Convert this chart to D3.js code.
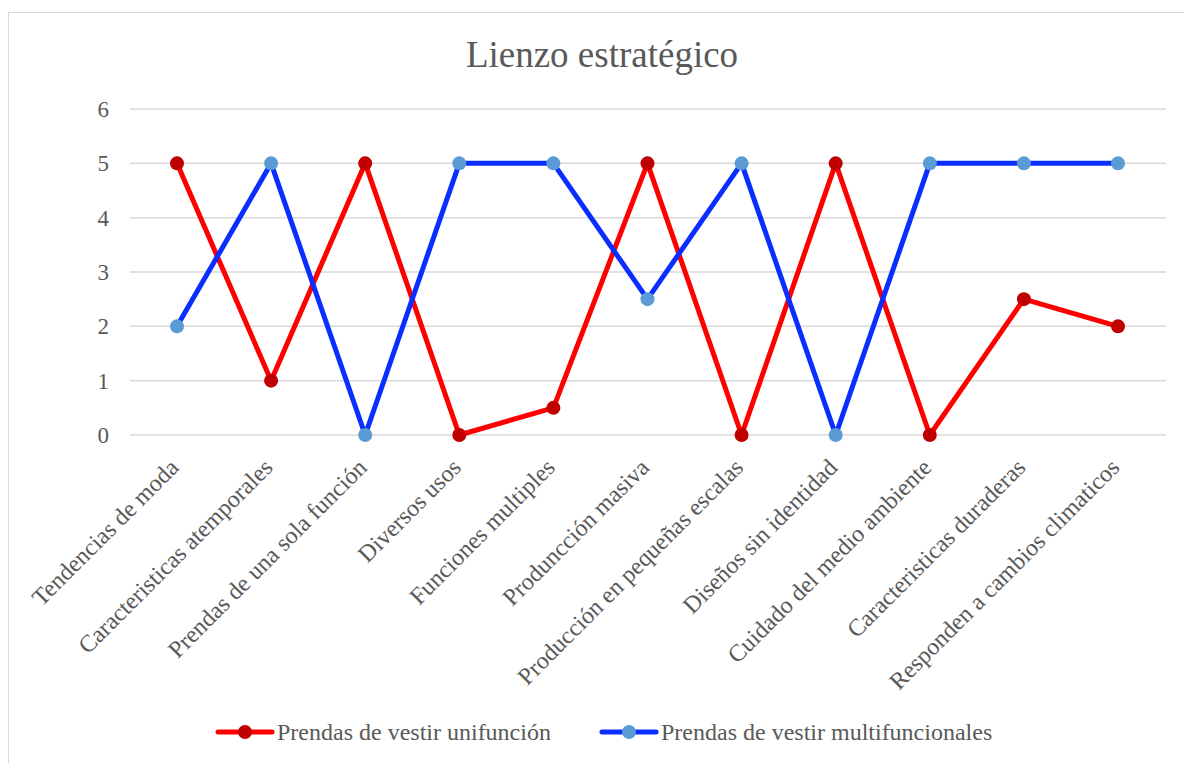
<!DOCTYPE html>
<html><head><meta charset="utf-8">
<script src="https://cdn.jsdelivr.net/npm/d3@7"></script>
<style>body{margin:0;background:#fff}svg{display:block}</style>
</head><body><svg id="c" width="1184" height="763"></svg>
<script>
const categories = ["Tendencias de moda","Caracteristicas atemporales","Prendas de una sola función","Diversos usos","Funciones multiples","Produncción masiva","Producción en pequeñas escalas","Diseños sin identidad","Cuidado del medio ambiente","Caracteristicas duraderas","Responden a cambios climaticos"];
const unifuncion = [5,1,5,0,0.5,5,0,5,0,2.5,2];
const multifuncional = [2,5,0,5,5,2.5,5,0,5,5,5];
const yTicks = [0,1,2,3,4,5,6];
const seriesNames = ["Prendas de vestir unifunción","Prendas de vestir multifuncionales"];

const FONT = "'Liberation Serif','Times New Roman',serif";
const svg = d3.select("#c");
svg.append("rect").attr("x",8.5).attr("y",12.5).attr("width",1190).attr("height",770).attr("fill","#fff").attr("stroke","#d9d9d9");

const x = d3.scalePoint().domain(categories).range([177,1118]);
const y = d3.scaleLinear().domain([0,6]).range([435,109]);

function txt(sel){ return sel.attr("font-family",FONT).attr("fill","#595959"); }

txt(svg.append("text")).attr("x",602).attr("y",67).attr("text-anchor","middle").attr("font-size",37).text("Lienzo estratégico");

const g = svg.append("g");
g.selectAll("line.grid").data(yTicks).join("line").attr("class","grid")
 .attr("x1",130).attr("x2",1166).attr("y1",d=>y(d)).attr("y2",d=>y(d))
 .attr("stroke","#d9d9d9").attr("stroke-width",1.5);
txt(g.selectAll("text.yt").data(yTicks).join("text").attr("class","yt"))
 .attr("x",109).attr("y",d=>y(d)).attr("dy","0.35em").attr("text-anchor","end").attr("font-size",23).text(d=>d);

txt(g.selectAll("text.xt").data(categories).join("text").attr("class","xt"))
 .attr("transform",d=>`translate(${x(d)-3},${463}) rotate(-45)`)
 .attr("text-anchor","end").attr("dy","0.35em").attr("font-size",24).text(d=>d);

const series = [
 {name:seriesNames[0], vals:unifuncion, line:"#ff0000", dot:"#c00000"},
 {name:seriesNames[1], vals:multifuncional, line:"#0a2eff", dot:"#5b9bd5"}
];
const lineGen = d3.line().x((d,i)=>x(categories[i])).y(d=>y(d));
series.forEach(s=>{
  g.append("path").attr("d",lineGen(s.vals)).attr("fill","none").attr("stroke",s.line).attr("stroke-width",5).attr("stroke-linejoin","round");
});
series.forEach(s=>{
  g.selectAll(null).data(s.vals).join("circle").attr("cx",(d,i)=>x(categories[i])).attr("cy",d=>y(d)).attr("r",7).attr("fill",s.dot);
});

const legX = [218,602];
series.forEach((s,i)=>{
  const lg = svg.append("g").attr("transform",`translate(${legX[i]},732)`);
  lg.append("line").attr("x1",0).attr("x2",54).attr("stroke",s.line).attr("stroke-width",5).attr("stroke-linecap","round");
  lg.append("circle").attr("cx",27).attr("r",7).attr("fill",s.dot);
  txt(lg.append("text")).attr("x",59).attr("dy","0.35em").attr("font-size",24).text(s.name);
});
</script></body></html>
